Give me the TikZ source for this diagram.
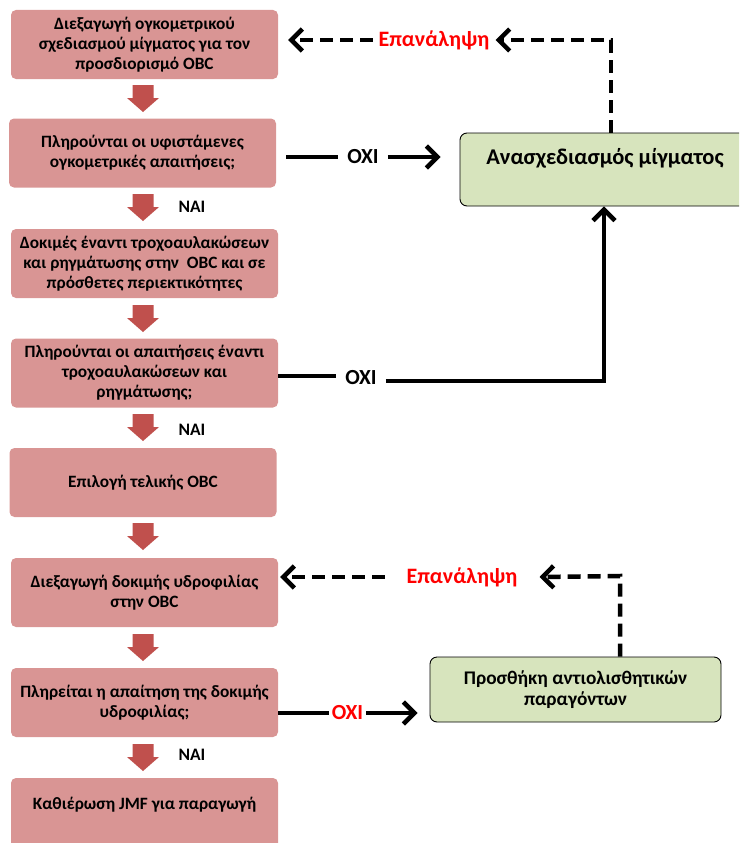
\documentclass[tikz,border=0pt]{standalone}
\usepackage{fontspec}
\setmainfont{Carlito}
\usetikzlibrary{arrows.meta,calc}
\definecolor{pinkbox}{HTML}{D99594}
\definecolor{blockred}{HTML}{C0504D}
\definecolor{greenfill}{HTML}{D7E4BD}
\definecolor{repred}{HTML}{FF0000}

\begin{document}
\begin{tikzpicture}[x=1pt,y=-1pt,
  stepbox/.style={fill=pinkbox, rounded corners=5pt, minimum width=267pt,
    minimum height=69pt, align=center, inner sep=0pt,
    font=\bfseries\fontsize{17.3}{20}\selectfont},
  steptext/.style={align=center, inner sep=0pt,
    font=\bfseries\fontsize{17.3}{20}\selectfont},
  greenbox/.style={fill=greenfill, draw=black, line width=0.9pt,
    rounded corners=7pt, align=center, inner sep=0pt},
  yesno/.style={font=\bfseries\fontsize{17.5}{19}\selectfont, inner sep=0pt},
  oxi/.style={font=\bfseries\fontsize{21.5}{23}\selectfont, inner xsep=9pt, inner ysep=0pt},
  rep/.style={font=\bfseries\fontsize{22}{24}\selectfont, text=repred, inner xsep=6pt, inner ysep=0pt},
  solidline/.style={line width=4.5pt, black},
  arrowline/.style={solidline, -{Straight Barb[length=11pt,width=22pt]}},
  dashline/.style={line width=4.5pt, black, dash pattern=on 13pt off 7pt,
    -{Straight Barb[length=11pt,width=22pt]}},
  blockdown/.pic={\fill[blockred] (-10.5,0) -- (10.5,0) -- (10.5,13) -- (16,13)
    -- (0,27) -- (-16,13) -- (-10.5,13) -- cycle;}
]
\useasboundingbox (0,0) rectangle (739,843);
\clip (0,0) rectangle (739,843);

% main column of steps
\node[stepbox] (b1) at (144.5,44.5) {Διεξαγωγή ογκομετρικού\\σχεδιασμού μίγματος για τον\\προσδιορισμό OBC};
\node[stepbox] (b2) at (142.5,153) {Πληρούνται οι υφιστάμενες\\ογκομετρικές απαιτήσεις;};
\node[stepbox] (b3) at (144.5,263.5) {Δοκιμές έναντι τροχοαυλακώσεων\\και ρηγμάτωσης στην\ \ OBC και σε\\πρόσθετες περιεκτικότητες};
\node[stepbox] (b4) at (144.5,373) {Πληρούνται οι απαιτήσεις έναντι\\τροχοαυλακώσεων και\\ρηγμάτωσης;};
\node[stepbox] (b5) at (143,482.5) {Επιλογή τελικής OBC};
\node[stepbox] (b6) at (144.5,592.5) {Διεξαγωγή δοκιμής υδροφιλίας\\στην OBC};
\node[stepbox] (b7) at (144.5,702.5) {Πληρείται η απαίτηση της δοκιμής\\υδροφιλίας;};
\node[stepbox, minimum height=80pt] (b8) at (144.5,818) {};
\node[steptext] (b8t) at (144.5,805) {Καθιέρωση JMF για παραγωγή};

% block arrows between the steps
\foreach \yt in {85,194,305,414,523,634,744}
  \pic at (143,\yt) {blockdown};

\node[yesno] (n1) at (192,207) {NAI};
\node[yesno] (n2) at (192,430) {NAI};
\node[yesno] (n3) at (192,755) {NAI};

% side boxes
\node[greenbox, minimum width=290pt, minimum height=73pt] (g1) at (605,169.5) {};
\node[steptext, font=\bfseries\fontsize{22.5}{24}\selectfont] (g1t) at (605,158) {Ανασχεδιασμός μίγματος};
\node[greenbox, minimum width=291pt, minimum height=65pt,
  font=\bfseries\fontsize{19.3}{21}\selectfont] (g2) at (575.5,689.5) {Προσθήκη αντιολισθητικών\\παραγόντων};

% first "no" branch
\node[oxi] (o1) at (363,157) {OXI};
\draw[solidline, shorten <=10pt] (b2.east |- o1) -- (o1.west);
\draw[arrowline, shorten >=19pt] (o1.east) -- (g1.west |- o1);

% second "no" branch
\node[oxi] (o2) at (361,378) {OXI};
\coordinate (c2) at (604,381);
\draw[solidline] ([yshift=2pt]b4.east |- o2) -- ([yshift=2pt]o2.west);
\draw[arrowline] (o2.east |- c2) -- (c2) -- (c2 |- g1.south);

% first repeat loop
\coordinate (c1) at (611,40);
\node[rep] (r1) at (434,40) {Επανάληψη};
\draw[dashline] (c1 |- g1.north) -- (c1) -- (r1.east);
\draw[dashline, shorten >=10pt] (r1.west) -- (b1.east |- r1);

% third "no" branch
\node[oxi, text=repred, inner xsep=3pt] (o3) at (347.5,713) {OXI};
\draw[solidline] (b7.east |- o3) -- (o3.west);
\draw[arrowline, shorten >=12pt] (o3.east) -- (g2.west |- o3);

% second repeat loop
\coordinate (c3) at (620,576);
\node[rep, inner xsep=22pt] (r2) at (462,577) {Επανάληψη};
\draw[dashline] (c3 |- g2.north) -- (c3) -- (r2.east);
\draw[dashline, shorten >=2pt] (r2.west) -- (b6.east |- r2);
\end{tikzpicture}
\end{document}
